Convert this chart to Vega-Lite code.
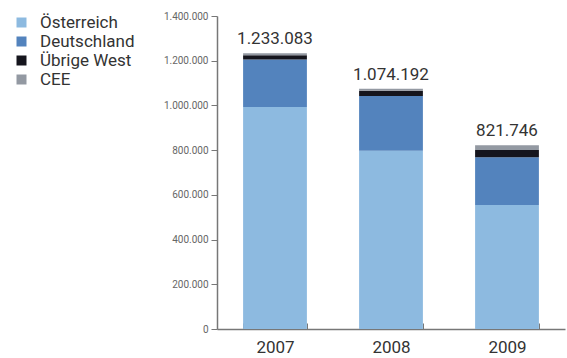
{
  "$schema": "https://vega.github.io/schema/vega-lite/v6.json",
  "autosize": {"type": "none"},
  "width": 348,
  "height": 313,
  "padding": {"left": 217, "top": 16, "right": 2, "bottom": 29},
  "background": "white",
  "config": {
    "locale": {"number": {"decimal": ",", "thousands": ".", "grouping": [3], "currency": ["", " €"]}},
    "view": {"stroke": null},
    "font": "Roboto"
  },
  "data": {
    "values": [
      {"year": "2007", "region": "Österreich", "rank": 1, "value": 993000},
      {"year": "2007", "region": "Deutschland", "rank": 2, "value": 212000},
      {"year": "2007", "region": "Übrige West", "rank": 3, "value": 20000},
      {"year": "2007", "region": "CEE", "rank": 4, "value": 8083},
      {"year": "2008", "region": "Österreich", "rank": 1, "value": 797000},
      {"year": "2008", "region": "Deutschland", "rank": 2, "value": 245000},
      {"year": "2008", "region": "Übrige West", "rank": 3, "value": 24000},
      {"year": "2008", "region": "CEE", "rank": 4, "value": 8192},
      {"year": "2009", "region": "Österreich", "rank": 1, "value": 555000},
      {"year": "2009", "region": "Deutschland", "rank": 2, "value": 213000},
      {"year": "2009", "region": "Übrige West", "rank": 3, "value": 33000},
      {"year": "2009", "region": "CEE", "rank": 4, "value": 20746}
    ]
  },
  "encoding": {
    "x": {
      "field": "year", "type": "nominal",
      "scale": {"paddingInner": 0.45, "paddingOuter": 0.225},
      "axis": {
        "title": null, "labelAngle": 0, "labelFontSize": 17, "labelColor": "#333333",
        "labelPadding": 16, "domainColor": "#777777", "domainWidth": 1.5,
        "tickBand": "extent", "tickSize": -6, "tickColor": "#777777", "tickWidth": 1
      }
    }
  },
  "layer": [
    {
      "mark": {"type": "bar"},
      "encoding": {
        "y": {
          "field": "value", "type": "quantitative", "stack": "zero",
          "scale": {"domain": [0, 1400000], "nice": false},
          "axis": {
            "title": null, "values": [0, 200000, 400000, 600000, 800000, 1000000, 1200000, 1400000],
            "format": ",d", "grid": false, "labelFontSize": 10, "labelColor": "#666666",
            "domainColor": "#777777", "domainWidth": 1.5, "tickColor": "#777777",
            "tickSize": 6, "labelPadding": 3
          }
        },
        "order": {"field": "rank", "type": "quantitative", "sort": "ascending"},
        "color": {
          "field": "region", "type": "nominal",
          "scale": {
            "domain": ["Österreich", "Deutschland", "Übrige West", "CEE"],
            "range": ["#8dbae0", "#5383bd", "#15151d", "#9399a2"]
          },
          "legend": {
            "title": null, "orient": "none", "legendX": -204, "legendY": -2,
            "symbolType": "square", "symbolSize": 100, "symbolStrokeWidth": 0,
            "labelFontSize": 17, "labelColor": "#333333", "labelOffset": 10,
            "rowPadding": 1
          }
        }
      }
    },
    {
      "mark": {"type": "text", "baseline": "bottom", "dy": -5, "fontSize": 17, "color": "#333333"},
      "encoding": {
        "y": {"aggregate": "sum", "field": "value", "type": "quantitative"},
        "text": {"aggregate": "sum", "field": "value", "type": "quantitative", "format": ",d"}
      }
    }
  ]
}
